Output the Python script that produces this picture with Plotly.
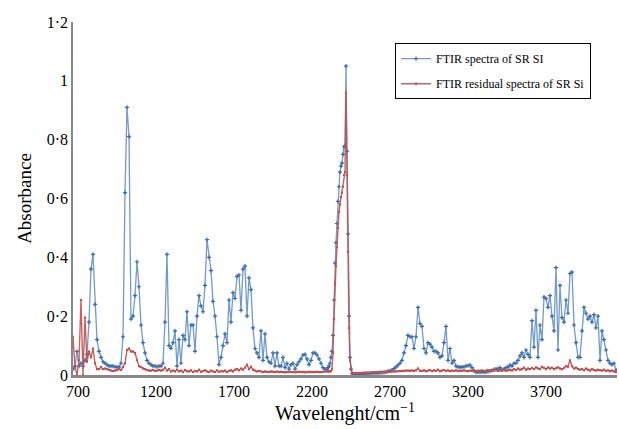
import numpy as np
import plotly.graph_objects as go

# ---- data (wavenumber segments in cm-1, absorbance readings) ----
seg_ranges = [(668.0, 975.6), (988.5, 1296.1), (1309.0, 1616.6), (1629.5, 1937.1),
              (1950.0, 2296.1), (2302.5, 2456.3), (2469.2, 2892.2), (2905.0, 3405.0),
              (3417.8, 4148.6)]

blue_1 = [0.02, 0.03, 0.08, 0.03, 0.04, 0.03, 0.05, 0.07, 0.18, 0.36, 0.41, 0.24, 0.12,
          0.08, 0.06, 0.045, 0.04, 0.035, 0.03, 0.03, 0.03, 0.028, 0.027, 0.027, 0.04]
blue_2 = [0.13, 0.62, 0.91, 0.81, 0.19, 0.20, 0.27, 0.385, 0.30, 0.17, 0.11, 0.075, 0.05,
          0.04, 0.035, 0.03, 0.03, 0.028, 0.03, 0.03, 0.04, 0.18, 0.41, 0.10, 0.09]
blue_3 = [0.11, 0.15, 0.03, 0.12, 0.04, 0.135, 0.12, 0.215, 0.10, 0.17, 0.17, 0.08, 0.20,
          0.27, 0.235, 0.215, 0.305, 0.46, 0.40, 0.355, 0.25, 0.20, 0.13, 0.035, 0.06]
blue_4 = [0.10, 0.14, 0.11, 0.255, 0.18, 0.28, 0.26, 0.335, 0.34, 0.22, 0.36, 0.37, 0.20,
          0.33, 0.29, 0.16, 0.09, 0.075, 0.06, 0.15, 0.05, 0.14, 0.06, 0.045, 0.04]
blue_5 = [0.075, 0.03, 0.075, 0.03, 0.03, 0.06, 0.025, 0.04, 0.02, 0.035, 0.04, 0.02, 0.035,
          0.045, 0.055, 0.068, 0.07, 0.055, 0.035, 0.05, 0.075, 0.075, 0.068, 0.055, 0.04,
          0.025, 0.02, 0.02]
blue_6 = [0.025, 0.03, 0.04, 0.06, 0.08, 0.135, 0.255, 0.38, 0.45, 0.515, 0.59, 0.64, 0.69,
          0.71, 0.72, 0.75, 0.775, 0.78, 1.05, 0.76, 0.48, 0.20, 0.06, 0.02, 0.005]
blue_7 = [0.003, 0.002, 0.002, 0.003, 0.003, 0.004, 0.004, 0.005, 0.005, 0.006, 0.006, 0.006,
          0.007, 0.008, 0.008, 0.009, 0.01, 0.012, 0.014, 0.017, 0.022, 0.027, 0.034, 0.04,
          0.05, 0.075, 0.10, 0.135, 0.13, 0.13, 0.09, 0.13, 0.23, 0.175]
blue_8 = [0.165, 0.09, 0.075, 0.11, 0.105, 0.095, 0.08, 0.08, 0.075, 0.06, 0.065, 0.11, 0.165,
          0.05, 0.09, 0.04, 0.05, 0.03, 0.027, 0.027, 0.027, 0.028, 0.03, 0.032, 0.034, 0.025,
          0.015, 0.01, 0.01, 0.01, 0.01, 0.01, 0.01, 0.012, 0.013, 0.016, 0.018, 0.02, 0.022,
          0.025]
blue_9 = [0.017, 0.02, 0.025, 0.027, 0.034, 0.03, 0.04, 0.04, 0.05, 0.065,
          0.075, 0.06, 0.085, 0.07, 0.06, 0.185, 0.095, 0.22, 0.06, 0.17,
          0.12, 0.265, 0.26, 0.23, 0.27, 0.20, 0.15, 0.365, 0.085, 0.305,
          0.195, 0.18, 0.255, 0.21, 0.345, 0.35, 0.17, 0.11, 0.06, 0.06,
          0.15, 0.23, 0.21, 0.19, 0.20, 0.18, 0.205, 0.16, 0.20, 0.05,
          0.15, 0.12, 0.085, 0.05, 0.04, 0.035, 0.04, 0.017]

red_1 = [0.13, 0.027, 0.0, 0.05, 0.255, 0.0, 0.195, 0.045, 0.08, 0.06, 0.09, 0.04, 0.02,
         0.02, 0.027, 0.02, 0.022, 0.02, 0.017, 0.015, 0.014, 0.015, 0.017, 0.02, 0.017]
red_2 = [0.027, 0.04, 0.085, 0.09, 0.08, 0.08, 0.075, 0.05, 0.03, 0.027, 0.022, 0.02, 0.017,
         0.015, 0.015, 0.017, 0.014, 0.015, 0.017, 0.015, 0.017, 0.025, 0.015, 0.02, 0.012]
red_3 = [0.015, 0.012, 0.018, 0.012, 0.015, 0.01, 0.017, 0.013, 0.012, 0.016, 0.01, 0.014,
         0.012, 0.018, 0.011, 0.013, 0.016, 0.012, 0.01, 0.015, 0.012, 0.01, 0.016, 0.011, 0.013]
red_4 = [0.012, 0.015, 0.01, 0.014, 0.016, 0.012, 0.018, 0.02, 0.016, 0.022, 0.018, 0.025,
         0.035, 0.02, 0.028, 0.018, 0.015, 0.012, 0.014, 0.012, 0.01, 0.012, 0.011, 0.01, 0.012]
red_5 = [0.011, 0.01, 0.012, 0.01, 0.011, 0.01, 0.009, 0.01, 0.011, 0.01,
         0.01, 0.009, 0.01, 0.011, 0.01, 0.01, 0.009, 0.01, 0.011, 0.01,
         0.01, 0.01, 0.011, 0.01, 0.01, 0.011, 0.012, 0.012]
red_6 = [0.012, 0.012, 0.012, 0.013, 0.02, 0.075, 0.19, 0.31, 0.37, 0.435, 0.50, 0.555, 0.58,
         0.605, 0.62, 0.64, 0.68, 0.69, 0.96, 0.68, 0.42, 0.16, 0.05, 0.02, 0.008]
red_7 = [0.006, 0.006, 0.007, 0.007, 0.007, 0.008, 0.008, 0.008, 0.008, 0.009,
         0.009, 0.009, 0.01, 0.01, 0.01, 0.01, 0.011, 0.011, 0.011, 0.012,
         0.012, 0.012, 0.013, 0.013, 0.014, 0.014, 0.015, 0.015, 0.014, 0.015,
         0.014, 0.016, 0.022, 0.014]
red_8 = [0.014, 0.016, 0.013, 0.015, 0.017, 0.013, 0.016, 0.014, 0.018, 0.013,
         0.015, 0.017, 0.014, 0.016, 0.013, 0.015, 0.014, 0.016, 0.013, 0.015,
         0.014, 0.016, 0.014, 0.013, 0.015, 0.014, 0.016, 0.013, 0.015, 0.014,
         0.016, 0.013, 0.015, 0.017, 0.014, 0.016, 0.015, 0.017, 0.014, 0.016]
red_9 = [0.015, 0.017, 0.014, 0.016, 0.018, 0.015, 0.02, 0.017, 0.022, 0.018,
         0.02, 0.025, 0.018, 0.022, 0.02, 0.024, 0.02, 0.026, 0.022, 0.02,
         0.028, 0.024, 0.02, 0.026, 0.022, 0.025, 0.02, 0.023, 0.026, 0.022,
         0.02, 0.024, 0.03, 0.028, 0.05, 0.03, 0.022, 0.025, 0.02, 0.018,
         0.02, 0.016, 0.022, 0.018, 0.015, 0.02, 0.017, 0.015, 0.018, 0.016,
         0.015, 0.018, 0.014, 0.016, 0.013, 0.015, 0.012, 0.01]

blue_segments = [blue_1, blue_2, blue_3, blue_4, blue_5, blue_6, blue_7, blue_8, blue_9]
red_segments = [red_1, red_2, red_3, red_4, red_5, red_6, red_7, red_8, red_9]

x_tick_vals = [700, 1200, 1700, 2200, 2700, 3200, 3700]
y_tick_vals = [0, 0.2, 0.4, 0.6, 0.8, 1.0, 1.2]
y_tick_text = ["0", "0·2", "0·4", "0·6", "0·8", "1", "1·2"]

series_names = ["FTIR spectra of SR SI", "FTIR residual spectra of SR Si"]


def build(segments):
    xs, ys = [], []
    for (a, b), vals in zip(seg_ranges, segments):
        xs.extend(np.linspace(a, b, len(vals)).tolist())
        ys.extend(vals)
    return xs, ys


bx, by = build(blue_segments)
rx, ry = build(red_segments)

FONT = "Liberation Serif"

fig = go.Figure()
fig.add_trace(go.Scatter(
    x=bx, y=by, mode="lines+markers", name=series_names[0], legendgroup="a",
    line=dict(color="rgba(79,129,189,0.8)", width=1.3),
    marker=dict(symbol="cross-thin", size=3, color="#3A6DB0",
                line=dict(color="#3A6DB0", width=1.2)),
))
fig.add_trace(go.Scatter(
    x=rx, y=ry, mode="lines+markers", name=series_names[1], legendgroup="b",
    line=dict(color="rgba(192,80,77,0.9)", width=1.4),
    marker=dict(symbol="square", size=2.2, color="#C0504D"),
))

fig.update_layout(
    width=619, height=429,
    margin=dict(l=73, r=2, t=22, b=54),
    paper_bgcolor="white", plot_bgcolor="white",
    font=dict(family=FONT, color="black"),
    showlegend=True,
    legend=dict(x=0.592, y=0.94, xanchor="left", yanchor="top",
                bordercolor="black", borderwidth=1, bgcolor="white",
                font=dict(size=12, family=FONT, color="black"), itemwidth=30,
                tracegroupgap=6),
    xaxis=dict(range=[668, 4155], tickvals=x_tick_vals,
               ticktext=[str(v) for v in x_tick_vals],
               showgrid=False, zeroline=False, showline=True,
               linecolor="#888888", linewidth=2.5, ticks="",
               tickfont=dict(size=16, family=FONT, color="black"),
               title=dict(text="Wavelenght/cm<sup>−1</sup>",
                          font=dict(size=20, family=FONT, color="black"), standoff=7)),
    yaxis=dict(range=[0, 1.2], tickvals=y_tick_vals, ticktext=y_tick_text,
               showgrid=False, zeroline=False, showline=True,
               linecolor="#888888", linewidth=1.5, ticks="",
               tickfont=dict(size=16, family=FONT, color="black"),
               title=dict(text="Absorbance", font=dict(size=19, family=FONT, color="black"),
                          standoff=10)),
)

fig.write_html("out.html")
